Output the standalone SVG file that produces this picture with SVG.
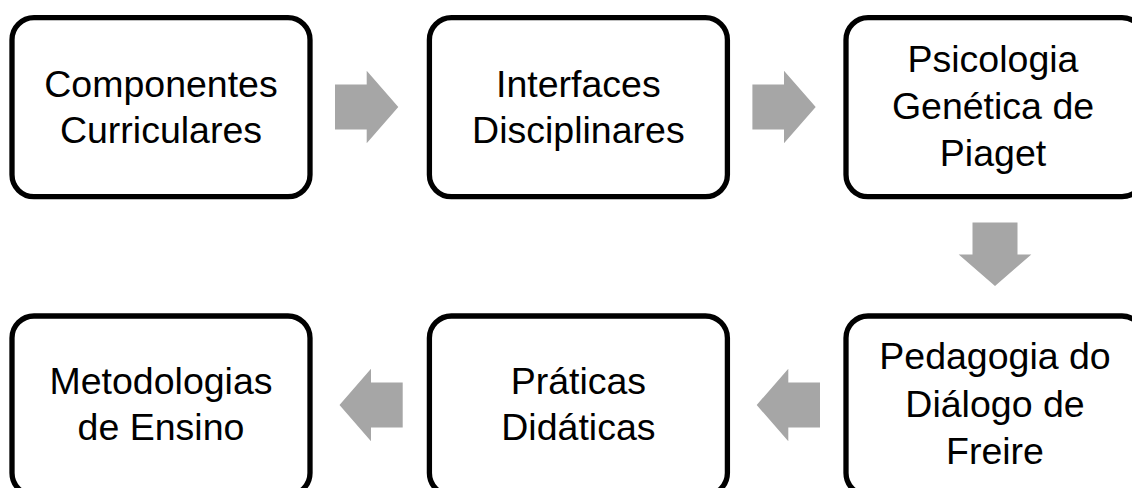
<svg xmlns="http://www.w3.org/2000/svg" width="1132" height="488" viewBox="0 0 1132 488">
<style>
.box{fill:#ffffff;stroke:#000000;stroke-width:5.3}
.lbl{font-family:"Liberation Sans",Arial,sans-serif;font-size:37.5px;fill:#000000;text-anchor:middle}
.arr{fill:#a6a6a6;stroke:none}
</style>
<rect width="1132" height="488" fill="#ffffff"/>
<g id="connectors">
<polygon class="arr" points="335,84.5 366.7,84.5 366.7,70.7 398.3,107 366.7,143.3 366.7,129.5 335,129.5"/>
<polygon class="arr" points="752.4,84.5 784,84.5 784,70.7 815.7,107 784,143.3 784,129.5 752.4,129.5"/>
<polygon class="arr" points="972.5,222.5 1017.5,222.5 1017.5,254.5 1031.3,254.5 995,286 958.7,254.5 972.5,254.5"/>
<polygon class="arr" points="820,382.5 788.3,382.5 788.3,368.7 756.7,405 788.3,441.3 788.3,427.5 820,427.5"/>
<polygon class="arr" points="402.7,382.5 371,382.5 371,368.7 339.5,405 371,441.3 371,427.5 402.7,427.5"/>
</g>
<g id="node-componentes">
<rect class="box" x="12" y="17.7" width="298" height="179" rx="22"/>
<text class="lbl" x="161" y="97">Componentes</text>
<text class="lbl" x="161" y="142.5">Curriculares</text>
</g>
<g id="node-interfaces">
<rect class="box" x="429.4" y="17.7" width="298" height="179" rx="22"/>
<text class="lbl" x="578.4" y="97">Interfaces</text>
<text class="lbl" x="578.4" y="142.5">Disciplinares</text>
</g>
<g id="node-psicologia">
<rect class="box" x="846" y="17.7" width="298" height="179" rx="22"/>
<text class="lbl" x="993" y="71.5">Psicologia</text>
<text class="lbl" x="993" y="118.5">Genética de</text>
<text class="lbl" x="993" y="165.5">Piaget</text>
</g>
<g id="node-pedagogia">
<rect class="box" x="846" y="316" width="298" height="179" rx="22"/>
<text class="lbl" x="995" y="369">Pedagogia do</text>
<text class="lbl" x="995" y="416.5">Diálogo de</text>
<text class="lbl" x="995" y="464">Freire</text>
</g>
<g id="node-praticas">
<rect class="box" x="429.4" y="316" width="298" height="179" rx="22"/>
<text class="lbl" x="578.4" y="394">Práticas</text>
<text class="lbl" x="578.4" y="440">Didáticas</text>
</g>
<g id="node-metodologias">
<rect class="box" x="12" y="316" width="298" height="179" rx="22"/>
<text class="lbl" x="161" y="394">Metodologias</text>
<text class="lbl" x="161" y="440">de Ensino</text>
</g>
</svg>
